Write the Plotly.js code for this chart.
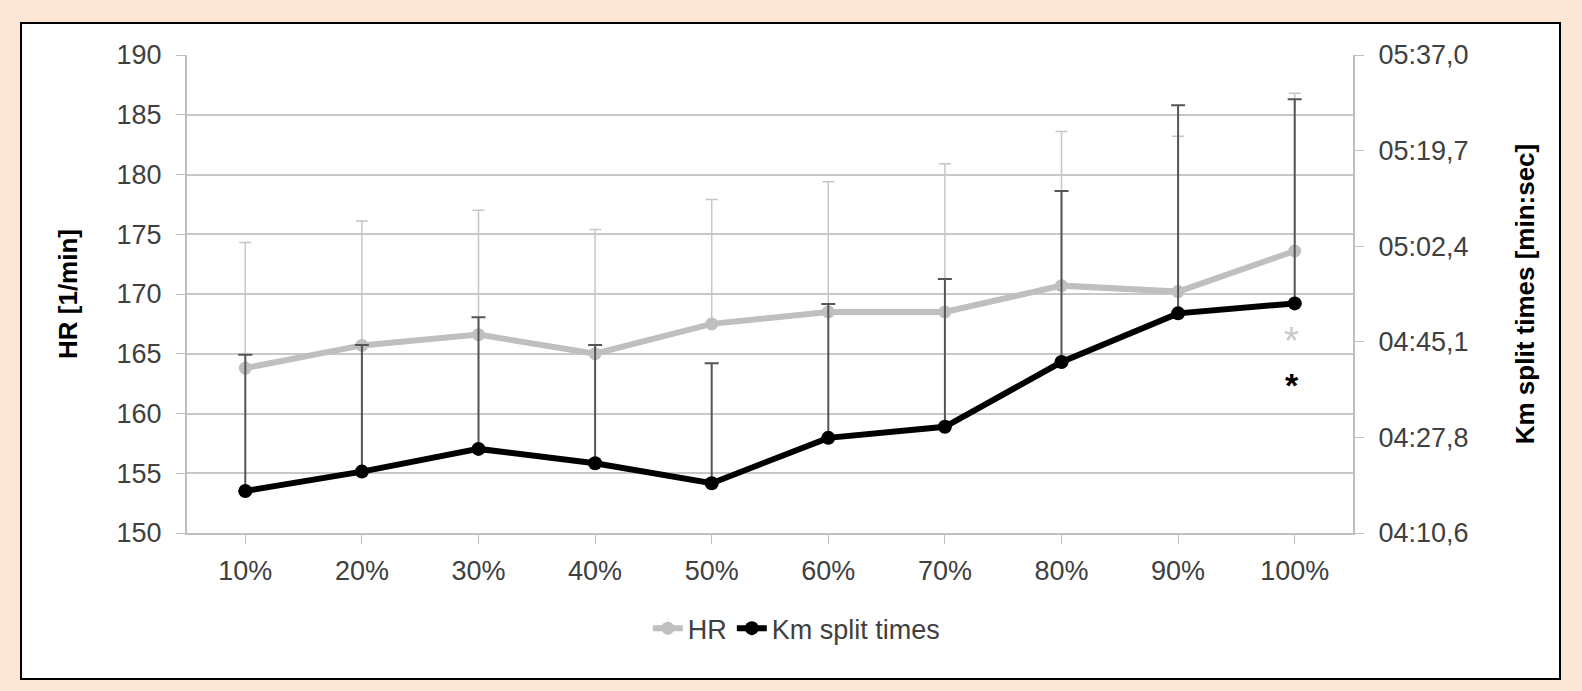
<!DOCTYPE html>
<html>
<head>
<meta charset="utf-8">
<script src="https://cdn.plot.ly/plotly-3.0.1.min.js"></script>
<style>
  html, body { margin: 0; padding: 0; background: #fce6d6; }
  #chart {
    position: absolute; left: 20px; top: 22px;
    width: 1537px; height: 654px;
    border: 2px solid #000; background: #fff;
  }
</style>
</head>
<body>
<div id="chart"></div>
<script>
// categories (share of the race)
const categories = ['10%', '20%', '30%', '40%', '50%', '60%', '70%', '80%', '90%', '100%'];

// heart rate, mean and +SD
const hrMean = [163.8, 165.7, 166.6, 165.0, 167.5, 168.5, 168.5, 170.7, 170.2, 173.6];
const hrSd   = [10.5, 10.4, 10.4, 10.4, 10.4, 10.9, 12.4, 12.9, 13.0, 13.2];

// km split times in seconds, mean and +SD
const splitMean = [258.2, 261.7, 265.8, 263.2, 259.6, 267.8, 269.8, 281.5, 290.3, 292.1];
const splitSd   = [24.6, 22.9, 23.8, 21.4, 21.7, 24.2, 26.7, 30.9, 37.6, 36.9];

// right axis ticks
const splitTickVals = [250.6, 267.88, 285.16, 302.44, 319.72, 337.0];
const splitTickText = ['04:10,6', '04:27,8', '04:45,1', '05:02,4', '05:19,7', '05:37,0'];

// significance markers at 100%
const starHr = 166.5;
const starSplit = 162.8;

window.onload = main;

function main() {
    const font = 'Liberation Sans, Arial, sans-serif';
    const zeros = categories.map(() => 0);

    const hrTrace = {
        x: categories,
        y: hrMean,
        name: 'HR',
        type: 'scatter',
        mode: 'lines+markers',
        line: { color: '#bfbfbf', width: 6 },
        marker: { color: '#bfbfbf', size: 13 },
        error_y: {
            type: 'data', symmetric: false,
            array: hrSd, arrayminus: zeros,
            color: '#c6c6c6', thickness: 1.5, width: 6
        }
    };

    const splitTrace = {
        x: categories,
        y: splitMean,
        name: 'Km split times',
        yaxis: 'y2',
        type: 'scatter',
        mode: 'lines+markers',
        line: { color: '#000', width: 6 },
        marker: { color: '#000', size: 14 },
        error_y: {
            type: 'data', symmetric: false,
            array: splitSd, arrayminus: zeros,
            color: '#555', thickness: 2, width: 7
        }
    };

    const layout = {
        width: 1537,
        height: 654,
        margin: { l: 165, r: 206, t: 31, b: 145 },
        paper_bgcolor: '#fff',
        plot_bgcolor: '#fff',
        font: { family: font, size: 27, color: '#404040' },
        showlegend: true,
        legend: {
            orientation: 'h',
            x: 0.523, xanchor: 'center',
            y: -0.2, yanchor: 'middle',
            font: { family: font, size: 27, color: '#404040' }
        },
        xaxis: {
            type: 'category',
            showline: true, linecolor: '#bfbfbf', linewidth: 2,
            ticks: 'outside', ticklen: 9, tickcolor: '#bfbfbf',
            ticklabelstandoff: 4,
            showgrid: false,
            range: [-0.5, 9.5],
            tickfont: { size: 27, color: '#404040' }
        },
        yaxis: {
            range: [150, 190],
            dtick: 5,
            showline: true, linecolor: '#bfbfbf', linewidth: 2,
            ticks: 'outside', ticklen: 9, tickcolor: '#bfbfbf',
            ticklabelstandoff: 9,
            gridcolor: '#c8c8c8', gridwidth: 2,
            zeroline: false,
            tickfont: { size: 27, color: '#404040' },
            title: {
                text: 'HR [1/min]',
                font: { size: 26, color: '#000', family: font, weight: 'bold' },
                standoff: 31
            }
        },
        yaxis2: {
            overlaying: 'y',
            side: 'right',
            range: [250.6, 337.0],
            tickvals: splitTickVals,
            ticktext: splitTickText,
            showline: true, linecolor: '#bfbfbf', linewidth: 2,
            ticks: 'outside', ticklen: 9, tickcolor: '#bfbfbf',
            ticklabelstandoff: 9,
            showgrid: false,
            zeroline: false,
            tickfont: { size: 27, color: '#404040' },
            title: {
                text: 'Km split times [min:sec]',
                font: { size: 26, color: '#000', family: font, weight: 'bold' },
                standoff: 48
            }
        },
        annotations: [
            {
                x: categories[9], y: starHr, xref: 'x', yref: 'y',
                text: '*', showarrow: false, xshift: -3, yshift: -5,
                font: { size: 38, color: '#c8c8c8', family: font }
            },
            {
                x: categories[9], y: starSplit, xref: 'x', yref: 'y',
                text: '<b>*</b>', showarrow: false, xshift: -3, yshift: -5,
                font: { size: 34, color: '#000', family: font }
            }
        ]
    };

    Plotly.newPlot('chart', [hrTrace, splitTrace], layout, { displayModeBar: false, staticPlot: true });
}
</script>
</body>
</html>
